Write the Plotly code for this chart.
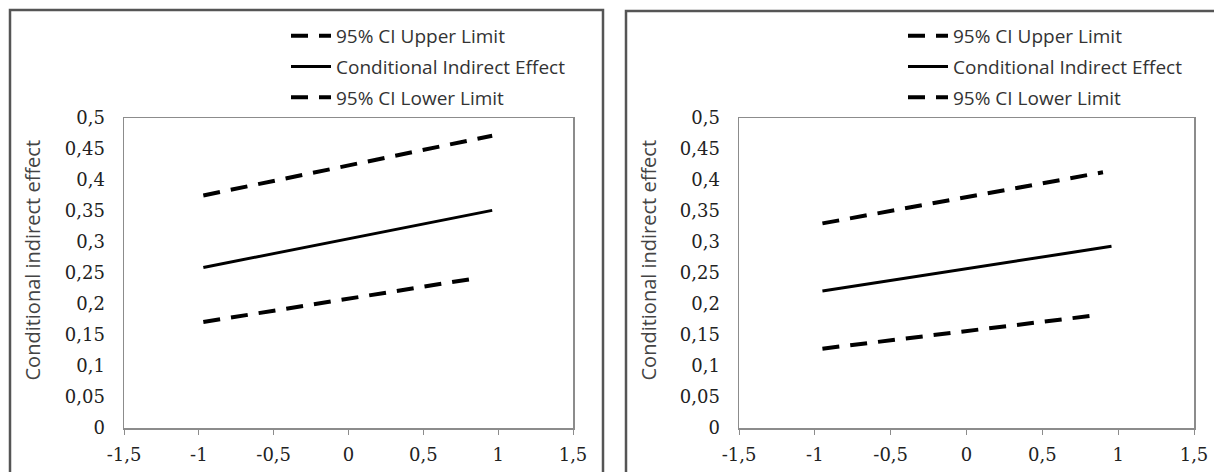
import plotly.graph_objects as go

# ---- data ----
series_names = ["95% CI Upper Limit", "Conditional Indirect Effect", "95% CI Lower Limit"]

# Left panel
left_upper_x = [-0.97, 0.96]
left_upper_y = [0.375, 0.4715]
left_cie_x = [-0.97, 0.96]
left_cie_y = [0.259, 0.351]
left_lower_x = [-0.97, 0.865]
left_lower_y = [0.171, 0.242]

# Right panel
right_upper_x = [-0.95, 0.90]
right_upper_y = [0.330, 0.4125]
right_cie_x = [-0.95, 0.956]
right_cie_y = [0.221, 0.293]
right_lower_x = [-0.95, 0.88]
right_lower_y = [0.128, 0.1826]

x_tickvals = [-1.5, -1, -0.5, 0, 0.5, 1, 1.5]
x_ticktext = ["-1,5", "-1", "-0,5", "0", "0,5", "1", "1,5"]
y_tickvals = [0, 0.05, 0.1, 0.15, 0.2, 0.25, 0.3, 0.35, 0.4, 0.45, 0.5]
y_ticktext = ["0", "0,05", "0,1", "0,15", "0,2", "0,25", "0,3", "0,35", "0,4", "0,45", "0,5"]
y_title = "Conditional indirect effect"

W, H = 1214, 472
DASH = "17px,11px"

fig = go.Figure()

def add_panel(xs, ys, xa, ya, legend):
    styles = [dict(dash=DASH, width=4), dict(dash="solid", width=3), dict(dash=DASH, width=4)]
    for i, (name, x, y) in enumerate(zip(series_names, xs, ys)):
        fig.add_trace(go.Scatter(
            x=x, y=y, mode="lines", name=name,
            line=dict(color="black", **styles[i]),
            xaxis=xa, yaxis=ya, legend=legend,
            legendgroup=f"{legend}{i}", showlegend=True,
        ))

add_panel([left_upper_x, left_cie_x, left_lower_x],
          [left_upper_y, left_cie_y, left_lower_y], "x", "y", "legend")
add_panel([right_upper_x, right_cie_x, right_lower_x],
          [right_upper_y, right_cie_y, right_lower_y], "x2", "y2", "legend2")

def px_x(p):
    return p / W

def px_y(p):
    return (H - p) / H

ydom = [px_y(428), px_y(118)]
tickfont = dict(family="DejaVu Serif", size=18, color="#222222")
xaxis_common = dict(range=[-1.5, 1.5], tickvals=x_tickvals, ticktext=x_ticktext,
                    showgrid=False, zeroline=False, showline=True, mirror=True,
                    linecolor="#8c8c8c", linewidth=1.5, ticks="outside", ticklen=5,
                    tickcolor="#8c8c8c", ticklabelstandoff=5, automargin=False,
                    tickfont=tickfont, fixedrange=True)
yaxis_common = dict(range=[0, 0.5], tickvals=y_tickvals, ticktext=y_ticktext,
                    showgrid=False, zeroline=False, showline=True, mirror=True,
                    linecolor="#8c8c8c", linewidth=1.5, ticks="",
                    ticklabelstandoff=14, automargin=False,
                    tickfont=tickfont, fixedrange=True)

legend_common = dict(font=dict(family="Open Sans", size=19, color="#333333"),
                     bgcolor="rgba(0,0,0,0)", traceorder="grouped",
                     tracegroupgap=3, itemwidth=40,
                     xanchor="left", yanchor="top")

title_font = dict(family="Open Sans", size=20, color="#444444")
ymid = (px_y(143) + px_y(378)) / 2

fig.update_layout(
    template="none",
    width=W, height=H,
    autosize=False,
    margin=dict(l=0, r=0, t=0, b=0, pad=0),
    paper_bgcolor="white", plot_bgcolor="white",
    xaxis=dict(domain=[px_x(124), px_x(573)], anchor="y", **xaxis_common),
    yaxis=dict(domain=ydom, anchor="x", **yaxis_common),
    xaxis2=dict(domain=[px_x(739), px_x(1194)], anchor="y2", **xaxis_common),
    yaxis2=dict(domain=ydom, anchor="x2", **yaxis_common),
    legend=dict(x=px_x(286), y=px_y(17), **legend_common),
    legend2=dict(x=px_x(903), y=px_y(17), **legend_common),
    annotations=[
        dict(text=y_title, x=px_x(32), y=ymid, xanchor="center", yanchor="middle",
             xref="paper", yref="paper", textangle=-90, showarrow=False, font=title_font),
        dict(text=y_title, x=px_x(648), y=ymid, xanchor="center", yanchor="middle",
             xref="paper", yref="paper", textangle=-90, showarrow=False, font=title_font),
    ],
    shapes=[
        dict(type="rect", xref="paper", yref="paper",
             x0=px_x(10), x1=px_x(603), y0=-0.1, y1=px_y(10),
             line=dict(color="#555555", width=2.5), layer="below"),
        dict(type="rect", xref="paper", yref="paper",
             x0=px_x(626), x1=1.1, y0=-0.1, y1=px_y(11),
             line=dict(color="#555555", width=2.5), layer="below"),
    ],
    showlegend=True,
)

fig.write_html("out.html",
               config={"displayModeBar": False, "staticPlot": True},
               post_script="document.body.style.margin='0';document.body.style.overflow='hidden';")
